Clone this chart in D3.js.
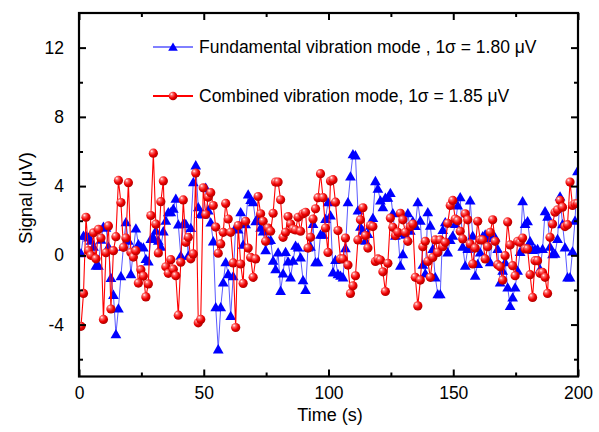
<!DOCTYPE html>
<html>
<head>
<meta charset="utf-8">
<script src="https://cdn.jsdelivr.net/npm/d3@7"></script>
<style>
  body { margin: 0; background: #fff; }
  svg { font-family: "Liberation Sans", Arial, sans-serif; }
</style>
</head>
<body>
<svg id="chart" width="599" height="432"></svg>
<script>
// time axis (s), one sample per second
var timeSec = d3.range(200).map(function(i) { return i + 0.8; });

// Fundamental vibration mode (blue triangles), µV
var fundamental = [
  0.12, 1.14, 1.14, 1.04, 0.85, 0.5, -0.6, -0.6, 0.9, 1.66,
  1.6, 0.5, -1.31, -2.28, -4.56, -3.07, -1.2, 0.5, 1.92, 0.85,
  -1.08, 0.3, 1.56, 0.64, 0.5, 0.46, -0.21, -0.35, 0.95, 1.04,
  1.43, 0.85, 0.5, 1.39, 2.0, 2.49, 2.49, 2.69, 3.27, 1.78,
  -0.02, 1.81, 1.81, -0.02, 1.58, 4.23, 5.2, 2.78, 2.4, 2.36,
  3.9, 2.6, 1.9, 0.81, -3.0, -5.43, -3.0, -1.56, -0.4, -1.08,
  -3.5, -1.2, 1.62, 1.5, 2.49, 0.62, 1.8, 3.52, 3.2, 3.07,
  1.97, 2.2, 1.6, 1.39, 0.3, 0.85, 0.89, -0.31, -0.8, 0.17,
  -2.05, -1.04, 0.2, -0.35, -1.27, -0.31, 0.56, 0.46, -0.12, -1.43,
  -2.0, 0.46, 0.5, 1.81, -0.4, -0.4, 1.2, 1.2, 2.1, 3.07,
  2.3, -0.98, -0.27, -1.08, -1.18, -1.27, 0.42, 3.07, 4.56, 5.84,
  5.78, 2.59, 1.66, 1.43, 0.85, 1.24, 1.72, 2.16, 4.29, 3.85,
  3.17, 2.78, 3.33, 3.33, 3.6, 2.43, 1.14, 1.3, -0.6, 0.07,
  1.2, 2.43, 1.43, 1.97, 1.7, 3.07, 2.0, -0.54, -1.04, 2.49,
  1.72, 0.37, -1.27, -2.24, -2.24, 1.47, 1.92, 0.17, 0.89, 1.14,
  1.81, 2.88, 3.36, 0.5, -0.6, 0.37, 3.17, 1.14, -1.18, -0.5,
  0.17, 1.1, 1.2, 1.0, -0.4, 1.2, 1.04, 0.37, -1.56, -0.89,
  -0.4, -1.85, -2.92, -2.43, -1.85, -0.89, 0.2, 3.13, 1.81, 1.97,
  0.81, 0.31, 0.35, 0.37, -0.8, 0.37, 2.55, 2.24, 0.5, 0.07,
  0.1, 0.95, 3.4, 1.8, 0.46, -1.27, -1.27, 0.23, 2.0, 4.87
];

// Combined vibration mode (red spheres), µV
var combined = [
  -4.1, -2.2, 2.2, 0.27, 0.0, 1.3, -0.2, 1.5, 1.0, -3.7,
  0.15, 1.7, -3.1, 0.27, 1.08, 4.33, 3.05, 0.46, 1.0, 4.2,
  0.17, -0.1, 0.27, -1.6, -0.83, -1.2, -2.4, -1.65, 2.3, 5.9,
  1.8, 0.14, 3.1, 4.3, -0.66, -1.04, -0.25, -0.8, -1.18, -3.46,
  -0.4, 3.2, 0.75, 1.04, -0.2, 0.08, 4.75, -3.9, -3.7, 3.9,
  2.36, 3.36, 3.62, 2.88, 1.63, 0.12, 0.66, 1.33, 3.0, 2.1,
  1.33, -0.44, -4.17, 1.72, -0.5, -1.62, 1.97, 0.42, -0.12, -1.27,
  -0.21, 3.4, 2.4, 1.97, 0.81, 1.58, 1.39, 2.43, 4.23, 4.23,
  3.21, 1.04, 1.33, 2.24, 1.81, 1.52, 1.47, 2.2, 1.39, 2.4,
  2.49, 0.42, 1.04, 2.1, 2.69, 3.33, 4.72, 3.33, 1.58, 0.17,
  4.29, 4.37, 3.07, 1.43, -0.21, -0.21, 1.0, -0.56, -2.2, -1.76,
  -1.18, 0.89, 2.05, 2.75, 1.14, 0.42, 1.72, 1.66, -0.35, -0.21,
  -0.27, -0.95, -2.09, -0.46, 2.15, 1.62, 1.14, 1.33, 2.43, 2.05,
  1.33, 0.81, 1.66, 1.81, -1.27, -2.92, -1.43, 0.5, 0.81, -0.35,
  -1.27, -0.12, 0.89, 0.17, 0.89, 0.5, 0.75, 1.85, 2.88, 3.17,
  2.1, 2.0, 1.39, 0.95, 2.4, 2.05, 0.66, -0.5, 0.42, 1.97,
  0.89, 0.89, -0.21, 0.5, 1.33, 2.05, 0.81, -0.54, -0.66, -1.43,
  -0.02, 1.93, 0.6, -0.6, -1.18, 0.81, 0.75, 1.0, 0.37, 0.37,
  -1.12, -2.43, -0.31, -0.31, -1.04, -0.99, -1.27, -2.2, 1.04, 1.81,
  2.49, 2.63, 3.17, 2.78, 1.66, 1.77, 4.23, 2.88, 2.98, 3.0
];

var xMajor = [0, 50, 100, 150, 200];
var xMinor = [25, 75, 125, 175];
var yMajor = [-4, 0, 4, 8, 12];
var yMinor = [-6, -2, 2, 6, 10];

var legendLabels = [
  "Fundamental vibration mode , 1\u03C3 = 1.80 \u03BCV",
  "Combined vibration mode, 1\u03C3 = 1.85 \u03BCV"
];

var svg = d3.select("#chart");
var pLeft = 79, pRight = 578, pTop = 13, pBottom = 376.5;

var x = d3.scaleLinear().domain([0, 200]).range([pLeft, pRight]);
var y = d3.scaleLinear().domain([-7, 14]).range([pBottom, pTop]);

// sphere gradient for red symbols
var defs = svg.append("defs");
var grad = defs.append("radialGradient").attr("id", "ball")
  .attr("cx", "38%").attr("cy", "35%").attr("r", "65%")
  .attr("fx", "32%").attr("fy", "28%");
grad.append("stop").attr("offset", "0%").attr("stop-color", "#ffffff");
grad.append("stop").attr("offset", "25%").attr("stop-color", "#ff6a6a");
grad.append("stop").attr("offset", "65%").attr("stop-color", "#ee0000");
grad.append("stop").attr("offset", "100%").attr("stop-color", "#b00000");

var clip = defs.append("clipPath").attr("id", "plotclip");
clip.append("rect").attr("x", pLeft).attr("y", pTop)
  .attr("width", pRight - pLeft).attr("height", pBottom - pTop);

var blueData = timeSec.map(function(t, i) { return [t, fundamental[i]]; });
var redData = timeSec.map(function(t, i) { return [t, combined[i]]; });

var line = d3.line()
  .x(function(d) { return x(d[0]); })
  .y(function(d) { return y(d[1]); });

var tri = d3.symbol().type(d3.symbolTriangle).size(50);

var plot = svg.append("g").attr("clip-path", "url(#plotclip)");

// blue series
plot.append("path").datum(blueData)
  .attr("fill", "none").attr("stroke", "#5a5aff").attr("stroke-width", 1)
  .attr("d", line);
plot.selectAll(".tri").data(blueData).enter().append("path")
  .attr("class", "tri")
  .attr("transform", function(d) { return "translate(" + x(d[0]) + "," + (y(d[1]) + 1) + ")"; })
  .attr("d", tri)
  .attr("fill", "#0000ff");

// red series
plot.append("path").datum(redData)
  .attr("fill", "none").attr("stroke", "#ff0000").attr("stroke-width", 1.1)
  .attr("d", line);
plot.selectAll(".ball").data(redData).enter().append("circle")
  .attr("class", "ball")
  .attr("cx", function(d) { return x(d[0]); })
  .attr("cy", function(d) { return y(d[1]); })
  .attr("r", 4.6)
  .attr("fill", "url(#ball)");

// axes, ticks pointing inward
var axisStyle = function(g) {
  g.select(".domain").remove();
  g.selectAll("line").attr("stroke", "#000").attr("stroke-width", 2);
  g.selectAll("text").attr("font-size", 17.5).attr("fill", "#000")
    .attr("font-family", "Liberation Sans, Arial, sans-serif");
};
var plain = function(d) { return String(d); };

svg.append("g").attr("transform", "translate(0," + pBottom + ")")
  .call(d3.axisBottom(x).tickValues(xMajor).tickSizeInner(-7).tickSizeOuter(0).tickPadding(10).tickFormat(plain))
  .call(axisStyle);
svg.append("g").attr("transform", "translate(0," + pBottom + ")")
  .call(d3.axisBottom(x).tickValues(xMinor).tickSizeInner(-4).tickSizeOuter(0).tickFormat(""))
  .call(axisStyle);
svg.append("g").attr("transform", "translate(0," + pTop + ")")
  .call(d3.axisTop(x).tickValues(xMajor).tickSizeInner(-7).tickSizeOuter(0).tickFormat(""))
  .call(axisStyle);
svg.append("g").attr("transform", "translate(0," + pTop + ")")
  .call(d3.axisTop(x).tickValues(xMinor).tickSizeInner(-4).tickSizeOuter(0).tickFormat(""))
  .call(axisStyle);

svg.append("g").attr("transform", "translate(" + pLeft + ",0)")
  .call(d3.axisLeft(y).tickValues(yMajor).tickSizeInner(-7).tickSizeOuter(0).tickPadding(15).tickFormat(plain))
  .call(axisStyle);
svg.append("g").attr("transform", "translate(" + pLeft + ",0)")
  .call(d3.axisLeft(y).tickValues(yMinor).tickSizeInner(-4).tickSizeOuter(0).tickFormat(""))
  .call(axisStyle);
svg.append("g").attr("transform", "translate(" + pRight + ",0)")
  .call(d3.axisRight(y).tickValues(yMajor).tickSizeInner(-7).tickSizeOuter(0).tickFormat(""))
  .call(axisStyle);
svg.append("g").attr("transform", "translate(" + pRight + ",0)")
  .call(d3.axisRight(y).tickValues(yMinor).tickSizeInner(-4).tickSizeOuter(0).tickFormat(""))
  .call(axisStyle);

// frame
svg.append("rect").attr("x", pLeft).attr("y", pTop)
  .attr("width", pRight - pLeft).attr("height", pBottom - pTop)
  .attr("fill", "none").attr("stroke", "#000").attr("stroke-width", 2.2);

// axis titles
svg.append("text").attr("x", 330).attr("y", 421)
  .attr("text-anchor", "middle").attr("font-size", 18).text("Time (s)");
svg.append("text").attr("transform", "translate(32,198) rotate(-90)")
  .attr("text-anchor", "middle").attr("font-size", 18.5).text("Signal (\u03BCV)");

// legend
var leg = svg.append("g");
var rowY = [47, 96];
leg.append("line").attr("x1", 153).attr("x2", 193).attr("y1", rowY[0]).attr("y2", rowY[0])
  .attr("stroke", "#0000ff").attr("stroke-width", 1);
leg.append("path").attr("transform", "translate(173," + (rowY[0] + 1) + ")")
  .attr("d", d3.symbol().type(d3.symbolTriangle).size(40)).attr("fill", "#0000ff");
leg.append("line").attr("x1", 153).attr("x2", 193).attr("y1", rowY[1]).attr("y2", rowY[1])
  .attr("stroke", "#ff0000").attr("stroke-width", 2);
leg.append("circle").attr("cx", 173).attr("cy", rowY[1]).attr("r", 4.3).attr("fill", "url(#ball)");
leg.selectAll(".lt").data(legendLabels).enter().append("text")
  .attr("class", "lt")
  .attr("x", 199).attr("y", function(d, i) { return rowY[i] + 6; })
  .attr("font-size", 17.5).text(function(d) { return d; });
</script>
</body>
</html>
